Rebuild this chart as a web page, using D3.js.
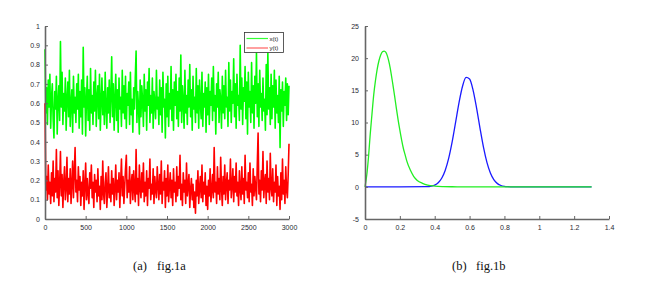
<!DOCTYPE html>
<html><head><meta charset="utf-8">
<script src="https://cdn.jsdelivr.net/npm/d3@7/dist/d3.min.js"></script>
<style>body{margin:0;background:#fff}svg{display:block}</style>
</head><body>
<svg id="c" width="645" height="282"></svg>
<script>
// ---- fig.1a data (sampled every 10 time units, t = 0..3000) ----
const tStep = 10;
const xSeries = [
0.88,0.55,0.68,0.49,0.72,0.58,0.75,0.47,0.63,0.70,0.52,0.42,0.66,0.57,0.74,0.44,0.61,0.69,0.51,0.92,
0.58,0.76,0.49,0.65,0.56,0.73,0.46,0.62,0.71,0.53,0.77,0.48,0.60,0.67,0.45,0.74,0.55,0.63,0.50,0.70,
0.57,0.75,0.47,0.66,0.53,0.72,0.44,0.89,0.58,0.68,0.43,0.62,0.74,0.51,0.67,0.46,0.78,0.55,0.64,0.49,
0.71,0.56,0.77,0.48,0.63,0.69,0.52,0.75,0.46,0.61,0.73,0.54,0.66,0.49,0.76,0.58,0.47,0.68,0.55,0.72,
0.50,0.64,0.84,0.53,0.70,0.46,0.62,0.75,0.51,0.67,0.45,0.73,0.57,0.63,0.48,0.77,0.55,0.69,0.52,0.74,
0.47,0.65,0.59,0.71,0.49,0.76,0.54,0.62,0.45,0.68,0.57,0.73,0.87,0.50,0.66,0.58,0.44,0.72,0.53,0.69,
0.61,0.48,0.75,0.56,0.67,0.46,0.71,0.59,0.78,0.50,0.64,0.55,0.73,0.47,0.66,0.60,0.52,0.77,0.57,0.63,
0.49,0.72,0.54,0.68,0.45,0.76,0.58,0.62,0.42,0.70,0.53,0.74,0.48,0.65,0.57,0.79,0.51,0.67,0.46,0.71,
0.59,0.75,0.52,0.66,0.48,0.73,0.56,0.85,0.50,0.69,0.61,0.47,0.77,0.55,0.64,0.49,0.72,0.58,0.80,0.53,
0.67,0.46,0.74,0.57,0.63,0.50,0.78,0.55,0.69,0.47,0.72,0.60,0.52,0.76,0.48,0.65,0.58,0.71,0.45,0.68,
0.54,0.75,0.49,0.66,0.59,0.73,0.51,0.79,0.56,0.64,0.44,0.70,0.58,0.76,0.50,0.67,0.62,0.47,0.74,0.55,
0.69,0.52,0.77,0.58,0.63,0.48,0.81,0.56,0.72,0.50,0.66,0.60,0.83,0.53,0.70,0.47,0.75,0.59,0.64,0.51,
0.90,0.57,0.73,0.49,0.68,0.61,0.79,0.52,0.71,0.44,0.76,0.58,0.66,0.50,0.81,0.55,0.69,0.47,0.74,0.60,
0.86,0.53,0.70,0.48,0.77,0.58,0.65,0.51,0.73,0.56,0.62,0.46,0.80,0.54,0.86,0.57,0.68,0.49,0.75,0.52,
0.69,0.58,0.77,0.47,0.72,0.55,0.64,0.50,0.74,0.37,0.67,0.56,0.71,0.48,0.66,0.59,0.73,0.51,0.70,0.54,
0.69];
const ySeries = [
0.60,0.15,0.22,0.10,0.28,0.13,0.19,0.08,0.24,0.12,0.30,0.09,0.21,0.14,0.36,0.11,0.25,0.07,0.18,0.35,
0.12,0.23,0.06,0.19,0.27,0.10,0.16,0.32,0.09,0.21,0.13,0.26,0.08,0.18,0.30,0.11,0.24,0.37,0.14,0.20,
0.09,0.27,0.15,0.22,0.07,0.19,0.12,0.25,0.05,0.17,0.29,0.10,0.21,0.13,0.08,0.24,0.16,0.28,0.11,0.19,
0.06,0.23,0.14,0.20,0.09,0.26,0.12,0.17,0.05,0.22,0.10,0.30,0.13,0.08,0.19,0.24,0.06,0.15,0.27,0.11,
0.18,0.09,0.25,0.13,0.21,0.07,0.16,0.28,0.10,0.20,0.14,0.24,0.06,0.19,0.31,0.12,0.22,0.08,0.17,0.26,
0.33,0.11,0.20,0.14,0.27,0.08,0.18,0.23,0.10,0.25,0.15,0.09,0.36,0.13,0.21,0.07,0.28,0.16,0.11,0.24,
0.14,0.29,0.09,0.19,0.12,0.25,0.07,0.21,0.16,0.31,0.10,0.18,0.13,0.26,0.08,0.22,0.15,0.11,0.27,0.17,
0.10,0.23,0.13,0.30,0.08,0.19,0.15,0.25,0.06,0.21,0.12,0.28,0.09,0.17,0.24,0.11,0.20,0.07,0.26,0.14,
0.19,0.09,0.27,0.12,0.22,0.16,0.33,0.10,0.18,0.07,0.24,0.14,0.20,0.08,0.29,0.12,0.17,0.23,0.06,0.15,
0.21,0.10,0.18,0.06,0.14,0.03,0.20,0.12,0.25,0.08,0.16,0.22,0.11,0.28,0.09,0.19,0.13,0.24,0.07,0.17,
0.05,0.20,0.12,0.26,0.09,0.15,0.23,0.11,0.37,0.14,0.19,0.08,0.27,0.13,0.21,0.10,0.32,0.16,0.07,0.22,
0.13,0.28,0.10,0.18,0.24,0.08,0.20,0.15,0.31,0.11,0.17,0.26,0.09,0.22,0.14,0.29,0.12,0.19,0.07,0.25,
0.16,0.10,0.27,0.13,0.21,0.08,0.33,0.15,0.19,0.11,0.24,0.09,0.29,0.14,0.18,0.07,0.26,0.12,0.22,0.16,
0.10,0.28,0.445,0.13,0.20,0.09,0.25,0.15,0.35,0.11,0.19,0.23,0.08,0.30,0.14,0.21,0.10,0.34,0.16,0.12,
0.26,0.09,0.19,0.14,0.28,0.07,0.22,0.12,0.17,0.05,0.24,0.10,0.31,0.13,0.20,0.08,0.27,0.15,0.11,0.23,
0.39];
const aXTicks = [0,500,1000,1500,2000,2500,3000];
const aYTicks = [0,0.1,0.2,0.3,0.4,0.5,0.6,0.7,0.8,0.9,1];
const aLegend = ["x(t)","y(t)"];

// ---- fig.1b data ----
const greenX = [0,0.01,0.02,0.03,0.04,0.05,0.06,0.07,0.08,0.09,0.10,0.11,0.12,0.13,0.14,0.15,0.16,0.17,0.18,0.19,0.20,0.21,0.22,0.23,0.24,0.26,0.28,0.30,0.33,0.36,0.40,0.45,0.50,0.55,0.8,1.0,1.3];
const greenY = [0,1.8,4.6,8.2,11.3,14.3,16.5,18.3,19.6,20.5,21.0,21.1,20.9,20.2,19.1,17.6,15.9,14.1,12.2,10.4,8.8,7.3,6.0,5.0,4.0,2.6,1.6,1.0,0.55,0.28,0.12,0.04,0.01,0,0,0,0];
const blueX = [0,0.2,0.36,0.38,0.40,0.42,0.44,0.46,0.48,0.50,0.52,0.54,0.56,0.58,0.60,0.62,0.64,0.66,0.68,0.70,0.72,0.74,0.76,0.78,0.80,0.82,0.85,1.0,1.3];
const blueY = [0,0,0.03,0.11,0.27,0.63,1.33,2.54,4.41,6.98,10.05,13.17,15.68,17.0,16.76,15.03,12.27,9.10,6.14,3.77,2.11,1.07,0.50,0.21,0.08,0.03,0,0,0];
const bXTicks = [0,0.2,0.4,0.6,0.8,1,1.2,1.4];
const bYTicks = [-5,0,5,10,15,20,25];
const captions = [["(a)","fig.1a"],["(b)","fig.1b"]];

const svg = d3.select("#c");
const FONT = "'Liberation Sans', Arial, sans-serif";
const AXC = "#666";

function styleAxis(g){
  g.attr("font-size",7).attr("font-family",FONT);
  g.select(".domain").attr("stroke",AXC).attr("stroke-width",1.6);
  g.selectAll(".tick line").attr("stroke",AXC).attr("stroke-width",1);
  g.selectAll(".tick text").attr("fill","#2a2a33");
}

// ----- fig 1a -----
const ax = d3.scaleLinear().domain([0,3000]).range([45,289]);
const ay = d3.scaleLinear().domain([0,1]).range([219,26]);
const lineA = d3.line().x((d,i)=>ax(i*tStep)).y(d=>ay(d));
svg.append("path").datum(xSeries).attr("d",lineA).attr("fill","none").attr("stroke","#00ff00").attr("stroke-width",1.6).attr("stroke-linejoin","round");
svg.append("path").datum(ySeries).attr("d",lineA).attr("fill","none").attr("stroke","#ff0000").attr("stroke-width",1.6).attr("stroke-linejoin","round");

svg.append("g").attr("transform","translate(0,219)")
  .call(d3.axisBottom(ax).tickValues(aXTicks).tickSizeInner(-3).tickSizeOuter(0).tickPadding(6).tickFormat(d3.format("d")))
  .call(styleAxis);
svg.append("g").attr("transform","translate(45,0)")
  .call(d3.axisLeft(ay).tickValues(aYTicks).tickSizeInner(-3).tickSizeOuter(0).tickPadding(5).tickFormat(d=>d===0||d===1?String(d):d3.format(".1f")(d)))
  .call(styleAxis);

// legend
const lg = svg.append("g");
lg.append("rect").attr("x",244.5).attr("y",32.5).attr("width",39).attr("height",20).attr("fill","#fff").attr("stroke","#333").attr("stroke-width",0.8);
const legCol = ["#33ff33","#ff6060"];
aLegend.forEach((t,i)=>{
  const yy = 38.5 + i*9.5;
  lg.append("line").attr("x1",246.5).attr("x2",268).attr("y1",yy).attr("y2",yy).attr("stroke",legCol[i]).attr("stroke-width",1.2);
  lg.append("text").attr("x",269.5).attr("y",yy+2.2).attr("font-size",6).attr("font-family",FONT).attr("fill","#111").text(t);
});

// ----- fig 1b -----
const bx = d3.scaleLinear().domain([0,1.4]).range([365,609]);
const by = d3.scaleLinear().domain([-5,25]).range([219,26]);
const lineB = d3.line().curve(d3.curveMonotoneX);
svg.append("path").attr("d",lineB(blueX.map((x,i)=>[bx(x),by(blueY[i])]))).attr("fill","none").attr("stroke","#1a1aff").attr("stroke-width",1.3);
svg.append("path").attr("d",lineB(greenX.map((x,i)=>[bx(x),by(greenY[i])]))).attr("fill","none").attr("stroke","#22ee22").attr("stroke-width",1.3);

svg.append("g").attr("transform","translate(0,219)")
  .call(d3.axisBottom(bx).tickValues(bXTicks).tickSizeInner(-3).tickSizeOuter(0).tickPadding(6).tickFormat(d=>String(d)))
  .call(styleAxis);
svg.append("g").attr("transform","translate(365,0)")
  .call(d3.axisLeft(by).tickValues(bYTicks).tickSizeInner(-3).tickSizeOuter(0).tickPadding(6).tickFormat(d=>String(d)))
  .call(styleAxis);

// captions
const capX = [[133,157],[452,476]];
captions.forEach((c,i)=>{
  svg.append("text").attr("x",capX[i][0]).attr("y",270).attr("font-family","'Liberation Serif','Times New Roman',serif").attr("font-size",12.5).attr("fill","#111").text(c[0]);
  svg.append("text").attr("x",capX[i][1]).attr("y",270).attr("font-family","'Liberation Serif','Times New Roman',serif").attr("font-size",12.5).attr("fill","#111").text(c[1]);
});
</script>
</body></html>
